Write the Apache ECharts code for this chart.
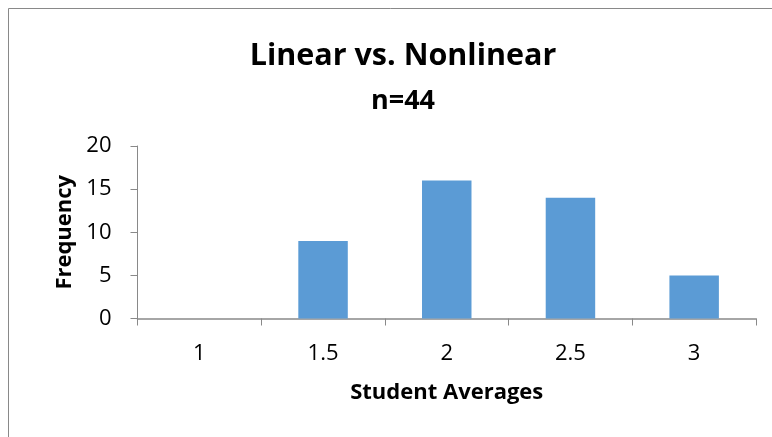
<!DOCTYPE html>
<html>
<head>
<meta charset="utf-8">
<script src="https://cdn.jsdelivr.net/npm/echarts@6/dist/echarts.min.js"></script>
<style>
  html, body { margin: 0; padding: 0; background: #fff; }
  #chart { width: 772px; height: 437px; }
</style>
</head>
<body>
<div id="chart"></div>
<script>
const categories = ["1", "1.5", "2", "2.5", "3"];
const frequency = [0, 9, 16, 14, 5];

const FONT = "Open Sans";
const AXIS_GRAY = "#898989";

const chart = echarts.init(document.getElementById("chart"), null, { renderer: "canvas" });

chart.setOption({
  backgroundColor: "#fff",
  animation: false,
  graphic: [
    {
      type: "rect",
      shape: { x: 8.5, y: 8.5, width: 800, height: 500 },
      style: { fill: "none", stroke: AXIS_GRAY, lineWidth: 1 },
      silent: true,
    },
  ],
  title: {
    text: "Linear vs. Nonlinear",
    subtext: "n=44",
    left: 398,
    top: 36,
    textAlign: "center",
    itemGap: 16,
    textStyle: { fontFamily: FONT, fontWeight: "bold", fontSize: 30.5, color: "#000" },
    subtextStyle: { fontFamily: FONT, fontWeight: "bold", fontSize: 27, color: "#000" },
  },
  grid: { left: 137.5, right: 16, top: 146, bottom: 118.5, containLabel: false },
  xAxis: {
    type: "category",
    data: categories,
    name: "Student Averages",
    nameLocation: "middle",
    nameGap: 63,
    nameTextStyle: { fontFamily: FONT, fontWeight: "bold", fontSize: 22, color: "#000" },
    axisLine: { lineStyle: { color: AXIS_GRAY, width: 1.5 } },
    axisTick: { show: true, alignWithLabel: false, length: 7, lineStyle: { color: AXIS_GRAY } },
    axisLabel: { margin: 24, fontFamily: FONT, fontSize: 22, color: "#000" },
  },
  yAxis: {
    type: "value",
    min: 0,
    max: 20,
    interval: 5,
    name: "Frequency",
    nameLocation: "middle",
    nameGap: 62,
    nameTextStyle: { fontFamily: FONT, fontWeight: "bold", fontSize: 22, color: "#000" },
    splitLine: { show: false },
    axisLine: { show: true, lineStyle: { color: AXIS_GRAY, width: 1 } },
    axisTick: { show: true, length: 7, lineStyle: { color: AXIS_GRAY } },
    axisLabel: { margin: 26, fontFamily: FONT, fontSize: 22, color: "#000" },
  },
  series: [
    {
      type: "bar",
      data: frequency,
      barWidth: "40%",
      itemStyle: { color: "#5B9BD5" },
    },
  ],
});
</script>
</body>
</html>
